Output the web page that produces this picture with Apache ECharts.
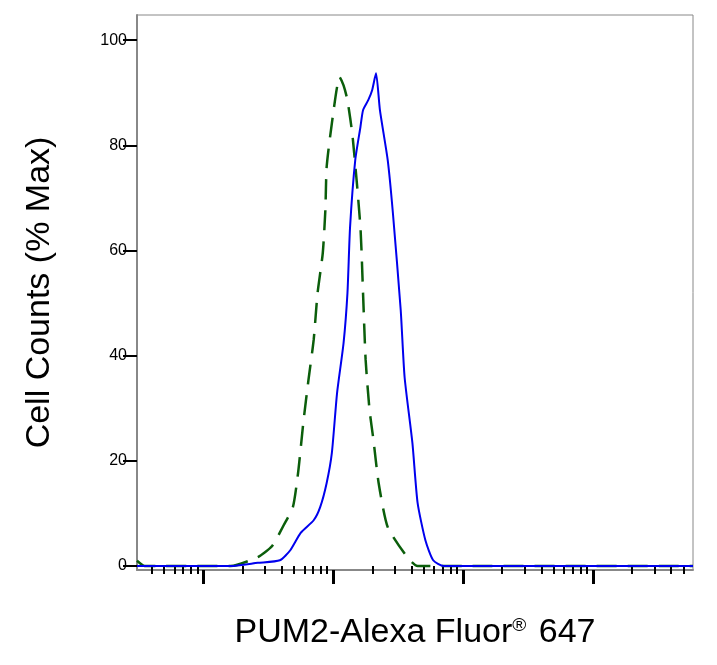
<!DOCTYPE html>
<html><head><meta charset="utf-8">
<script src="https://cdn.jsdelivr.net/npm/echarts@6/dist/echarts.min.js"></script>
<style>html,body{margin:0;padding:0;background:#fff}#c{width:717px;height:665px}</style>
</head><body><div id="c"></div>
<script>
// x values are log10(fluorescence intensity)
const isoX = [1.49,1.55,1.70,2.21,2.42,2.53,2.62,2.69,2.73,2.77,2.81,2.85,2.88,2.92,2.94,2.95,2.99,3.05,3.08,3.11,3.15,3.21,3.23,3.25,3.28,3.31,3.35,3.42,3.57,3.65,4.00,5.77];
const isoY = [1.0,0,0,0,1.7,3.8,7.8,11.2,17.7,27.2,35.4,43,51.9,59.5,67.7,75.9,84.2,93,91.4,88.6,81.6,64.4,51.9,39.2,29.7,24,15.8,7.4,1.7,0,0,0];
const pumX = [1.49,2.21,2.42,2.59,2.67,2.75,2.85,2.90,2.95,2.99,3.03,3.08,3.11,3.13,3.17,3.21,3.23,3.27,3.30,3.33,3.36,3.42,3.46,3.52,3.55,3.61,3.65,3.71,3.77,3.85,5.77];
const pumY = [0,0,0.6,1.1,3,6.3,8.7,11.2,15.8,21.5,32.9,42.4,51.9,64.4,77.2,83.5,86.7,88.6,90.5,93.7,86.7,77.2,67.1,48.7,35.9,23.4,12,4.9,1.1,0,0];
const decades = [1,2,3,4,5];
const yTicks = [0,20,40,60,80,100];
const xMin = 1.49, xMax = 5.77;
const majors = decades.filter(d=>d>=xMin&&d<=xMax);
const minors = [];
decades.forEach(d=>{for(let k=2;k<=9;k++){const v=d+Math.log10(k); if(v>=xMin&&v<=xMax) minors.push(v);}});
const chart = echarts.init(document.getElementById('c'));
const ff = 'Liberation Sans, Arial, sans-serif';
chart.setOption({
  animation:false,
  grid:{left:137,right:24,top:15,bottom:95,show:true,borderColor:'#888',borderWidth:1},
  xAxis:[{type:'value',min:xMin,max:xMax,
    axisLine:{show:true,onZero:false,lineStyle:{color:'#888',width:2}},
    axisTick:{show:true,inside:false,length:14,customValues:majors,lineStyle:{color:'#000',width:3}},
    axisLabel:{show:false},splitLine:{show:false},
    name:'PUM2-Alexa Fluor{r|®} 647',nameLocation:'middle',nameGap:46,
    nameTextStyle:{fontSize:34,color:'#000',fontFamily:ff,rich:{r:{fontSize:19,verticalAlign:'top',padding:[0,3,14,0],color:'#000',fontFamily:ff}}}},
   {type:'value',min:xMin,max:xMax,position:'bottom',
    axisLine:{show:false},
    axisTick:{show:true,length:8,customValues:minors,lineStyle:{color:'#000',width:2}},
    axisLabel:{show:false},splitLine:{show:false}}],
  yAxis:{type:'value',min:-0.76,max:104.8,
    axisLine:{show:true,onZero:false,lineStyle:{color:'#888',width:2}},
    axisTick:{show:true,length:14,customValues:yTicks,lineStyle:{color:'#000',width:2}},
    minorTick:{show:false},
    axisLabel:{customValues:yTicks,fontSize:16,color:'#000',fontFamily:ff,margin:10},
    splitLine:{show:false},
    name:'Cell Counts (% Max)',nameLocation:'middle',nameGap:80,
    nameTextStyle:{fontSize:34,color:'#000',fontFamily:ff}},
  series:[
    {type:'line',data:isoX.map((x,i)=>[x,isoY[i]]),showSymbol:false,smooth:0.2,
     lineStyle:{color:'#0b5e0b',width:2.5,type:[20,11]}},
    {type:'line',data:pumX.map((x,i)=>[x,pumY[i]]),showSymbol:false,smooth:0.2,
     lineStyle:{color:'#0000ee',width:2}}
  ]
});
</script></body></html>
